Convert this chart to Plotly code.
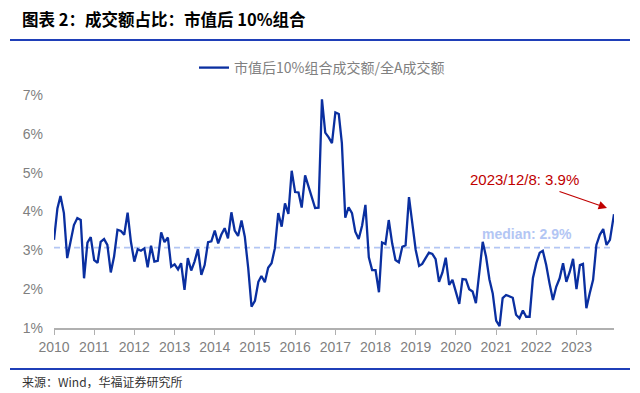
import pandas as pd
import plotly.graph_objects as go

# ---- data (monthly ratio, %), Jan 2010 .. Nov 2023, plus 2023-12-08 ----
ratio_2010_2013 = [3.27, 4.08, 4.40, 3.96, 2.80, 3.27, 3.65, 3.83, 3.78, 2.28, 3.20, 3.34,
                   2.75, 2.68, 3.22, 3.29, 3.14, 2.43, 2.84, 3.53, 3.50, 3.40, 3.97, 3.22,
                   2.71, 3.03, 2.99, 3.05, 2.56, 3.12, 2.71, 2.73, 3.46, 3.21, 3.33, 2.58,
                   2.64, 2.51, 2.67, 1.98, 2.80, 2.48, 2.71, 3.03, 2.37, 2.62, 3.21, 3.23]
ratio_2014_2017 = [3.51, 3.18, 3.40, 3.57, 3.31, 3.98, 3.51, 3.37, 3.77, 3.35, 2.54, 1.55,
                   1.70, 2.19, 2.34, 2.18, 2.55, 2.67, 3.05, 3.96, 3.61, 4.21, 3.94, 5.05,
                   4.50, 4.49, 4.10, 4.93, 4.66, 4.38, 4.09, 4.10, 6.89, 6.03, 5.91, 5.76,
                   6.55, 6.51, 5.76, 3.84, 4.11, 3.96, 3.48, 3.29, 3.64, 4.17, 2.82, 2.49]
ratio_2018_2021 = [2.49, 1.92, 3.20, 3.16, 3.78, 3.18, 2.75, 2.69, 3.09, 3.13, 4.37, 3.70,
                   3.01, 2.60, 2.65, 2.80, 2.94, 2.91, 2.77, 2.19, 2.43, 2.81, 2.11, 2.24,
                   1.95, 1.62, 2.26, 2.25, 2.00, 1.94, 1.64, 2.45, 3.22, 2.84, 2.25, 1.89,
                   1.19, 1.05, 1.77, 1.85, 1.81, 1.78, 1.34, 1.25, 1.45, 1.29, 1.29, 2.28]
ratio_2022_2023 = [2.67, 2.94, 2.99, 2.62, 2.15, 1.72, 2.06, 2.28, 2.67, 2.19, 2.45, 2.78,
                   2.00, 2.62, 2.65, 1.51, 1.89, 2.24, 3.14, 3.40, 3.55, 3.14, 3.27, 3.93]
ratio = ratio_2010_2013 + ratio_2014_2017 + ratio_2018_2021 + ratio_2022_2023

last_date = "2023-12-08"
dates = list(pd.date_range("2010-01-01", periods=len(ratio) - 1, freq="MS")) + [pd.Timestamp(last_date)]

median_value = 3.07
median_label = "median: 2.9%"
last_label = "2023/12/8: 3.9%"
series_name = "市值后10%组合成交额/全A成交额"
title_text = "图表 2：成交额占比：市值后 10%组合"
source_text = "来源：Wind，华福证券研究所"
y_ticks = [1, 2, 3, 4, 5, 6, 7]
y_tick_text = [f"{v}%" for v in y_ticks]

FONT = "Liberation Sans, Arial, Noto Sans CJK SC"
CJK = "Noto Sans CJK SC, Liberation Sans"

# plot area in pixels: left 54, right 614, top 95, bottom 328
L, R, T, B = 54, 614, 95, 328
W, H = R - L, B - T


def px(x):
    return (x - L) / W


def py(y):
    return (B - y) / H


fig = go.Figure()
fig.add_trace(go.Scatter(
    x=dates, y=ratio, mode="lines", name=series_name,
    line=dict(color="#0a2fa0", width=2.3),
))

fig.add_hline(y=median_value, line=dict(color="#b3c6f4", width=1.6, dash="6px,4px"), layer="below")

fig.update_layout(
    width=640, height=393,
    margin=dict(l=L, r=640 - R, t=T, b=393 - B),
    paper_bgcolor="white", plot_bgcolor="white",
    font=dict(family=FONT, size=14, color="#7f7f7f"),
    showlegend=True,
    legend=dict(orientation="h", x=px(322), y=py(68), xanchor="center", yanchor="middle",
                font=dict(family=CJK, size=14, color="#808080"), itemwidth=30,
                bgcolor="rgba(0,0,0,0)"),
    xaxis=dict(
        type="date", range=[dates[0], dates[-1]],
        dtick="M12", tick0="2010-01-01", tickformat="%Y",
        showgrid=False, zeroline=False,
        showline=True, linecolor="#b0b0b0", linewidth=1.5,
        ticks="outside", ticklen=5, tickcolor="#b0b0b0", tickwidth=1,
        tickfont=dict(family=FONT, size=14, color="#7f7f7f"),
    ),
    yaxis=dict(
        range=[1, 7], tickvals=y_ticks, ticktext=y_tick_text,
        showgrid=False, zeroline=False, showline=False, ticks="",
        ticklabelstandoff=10,
        tickfont=dict(family=FONT, size=14, color="#7f7f7f"),
    ),
)

# median label
fig.add_annotation(x=px(527), y=py(234), xref="paper", yref="paper",
                   text=f"<b>{median_label}</b>", showarrow=False,
                   font=dict(family=FONT, size=14, color="#b3c6f4"), xanchor="center", yanchor="middle")
# last value label + arrow
fig.add_annotation(x=px(524), y=py(179), xref="paper", yref="paper", text=last_label, showarrow=False,
                   font=dict(family=FONT, size=15, color="#c00000"), xanchor="center", yanchor="middle")
fig.add_annotation(x=px(607), y=py(208), xref="paper", yref="paper", text="", showarrow=True,
                   ax=-49, ay=-17, arrowhead=2, arrowsize=1.4, arrowwidth=1.2, arrowcolor="#c00000")

# title, rules, source
fig.add_annotation(x=px(20), y=py(19), xref="paper", yref="paper", text=f"<b>{title_text}</b>",
                   showarrow=False, font=dict(family=CJK, size=16.5, color="#000000"),
                   xanchor="left", yanchor="middle")
fig.add_annotation(x=px(20), y=py(381), xref="paper", yref="paper",
                   text=source_text, showarrow=False,
                   font=dict(family=CJK, size=12, color="#333333"), xanchor="left", yanchor="middle")
fig.add_shape(type="line", xref="paper", yref="paper", x0=px(10), x1=px(630),
              y0=py(40), y1=py(40), line=dict(color="#1f3fb8", width=2))
fig.add_shape(type="line", xref="paper", yref="paper", x0=px(10), x1=px(630),
              y0=py(369), y1=py(369), line=dict(color="#1f3fb8", width=2))

fig.write_html("out.html", config={"displayModeBar": False},
               post_script="document.body.style.margin='0px';")
